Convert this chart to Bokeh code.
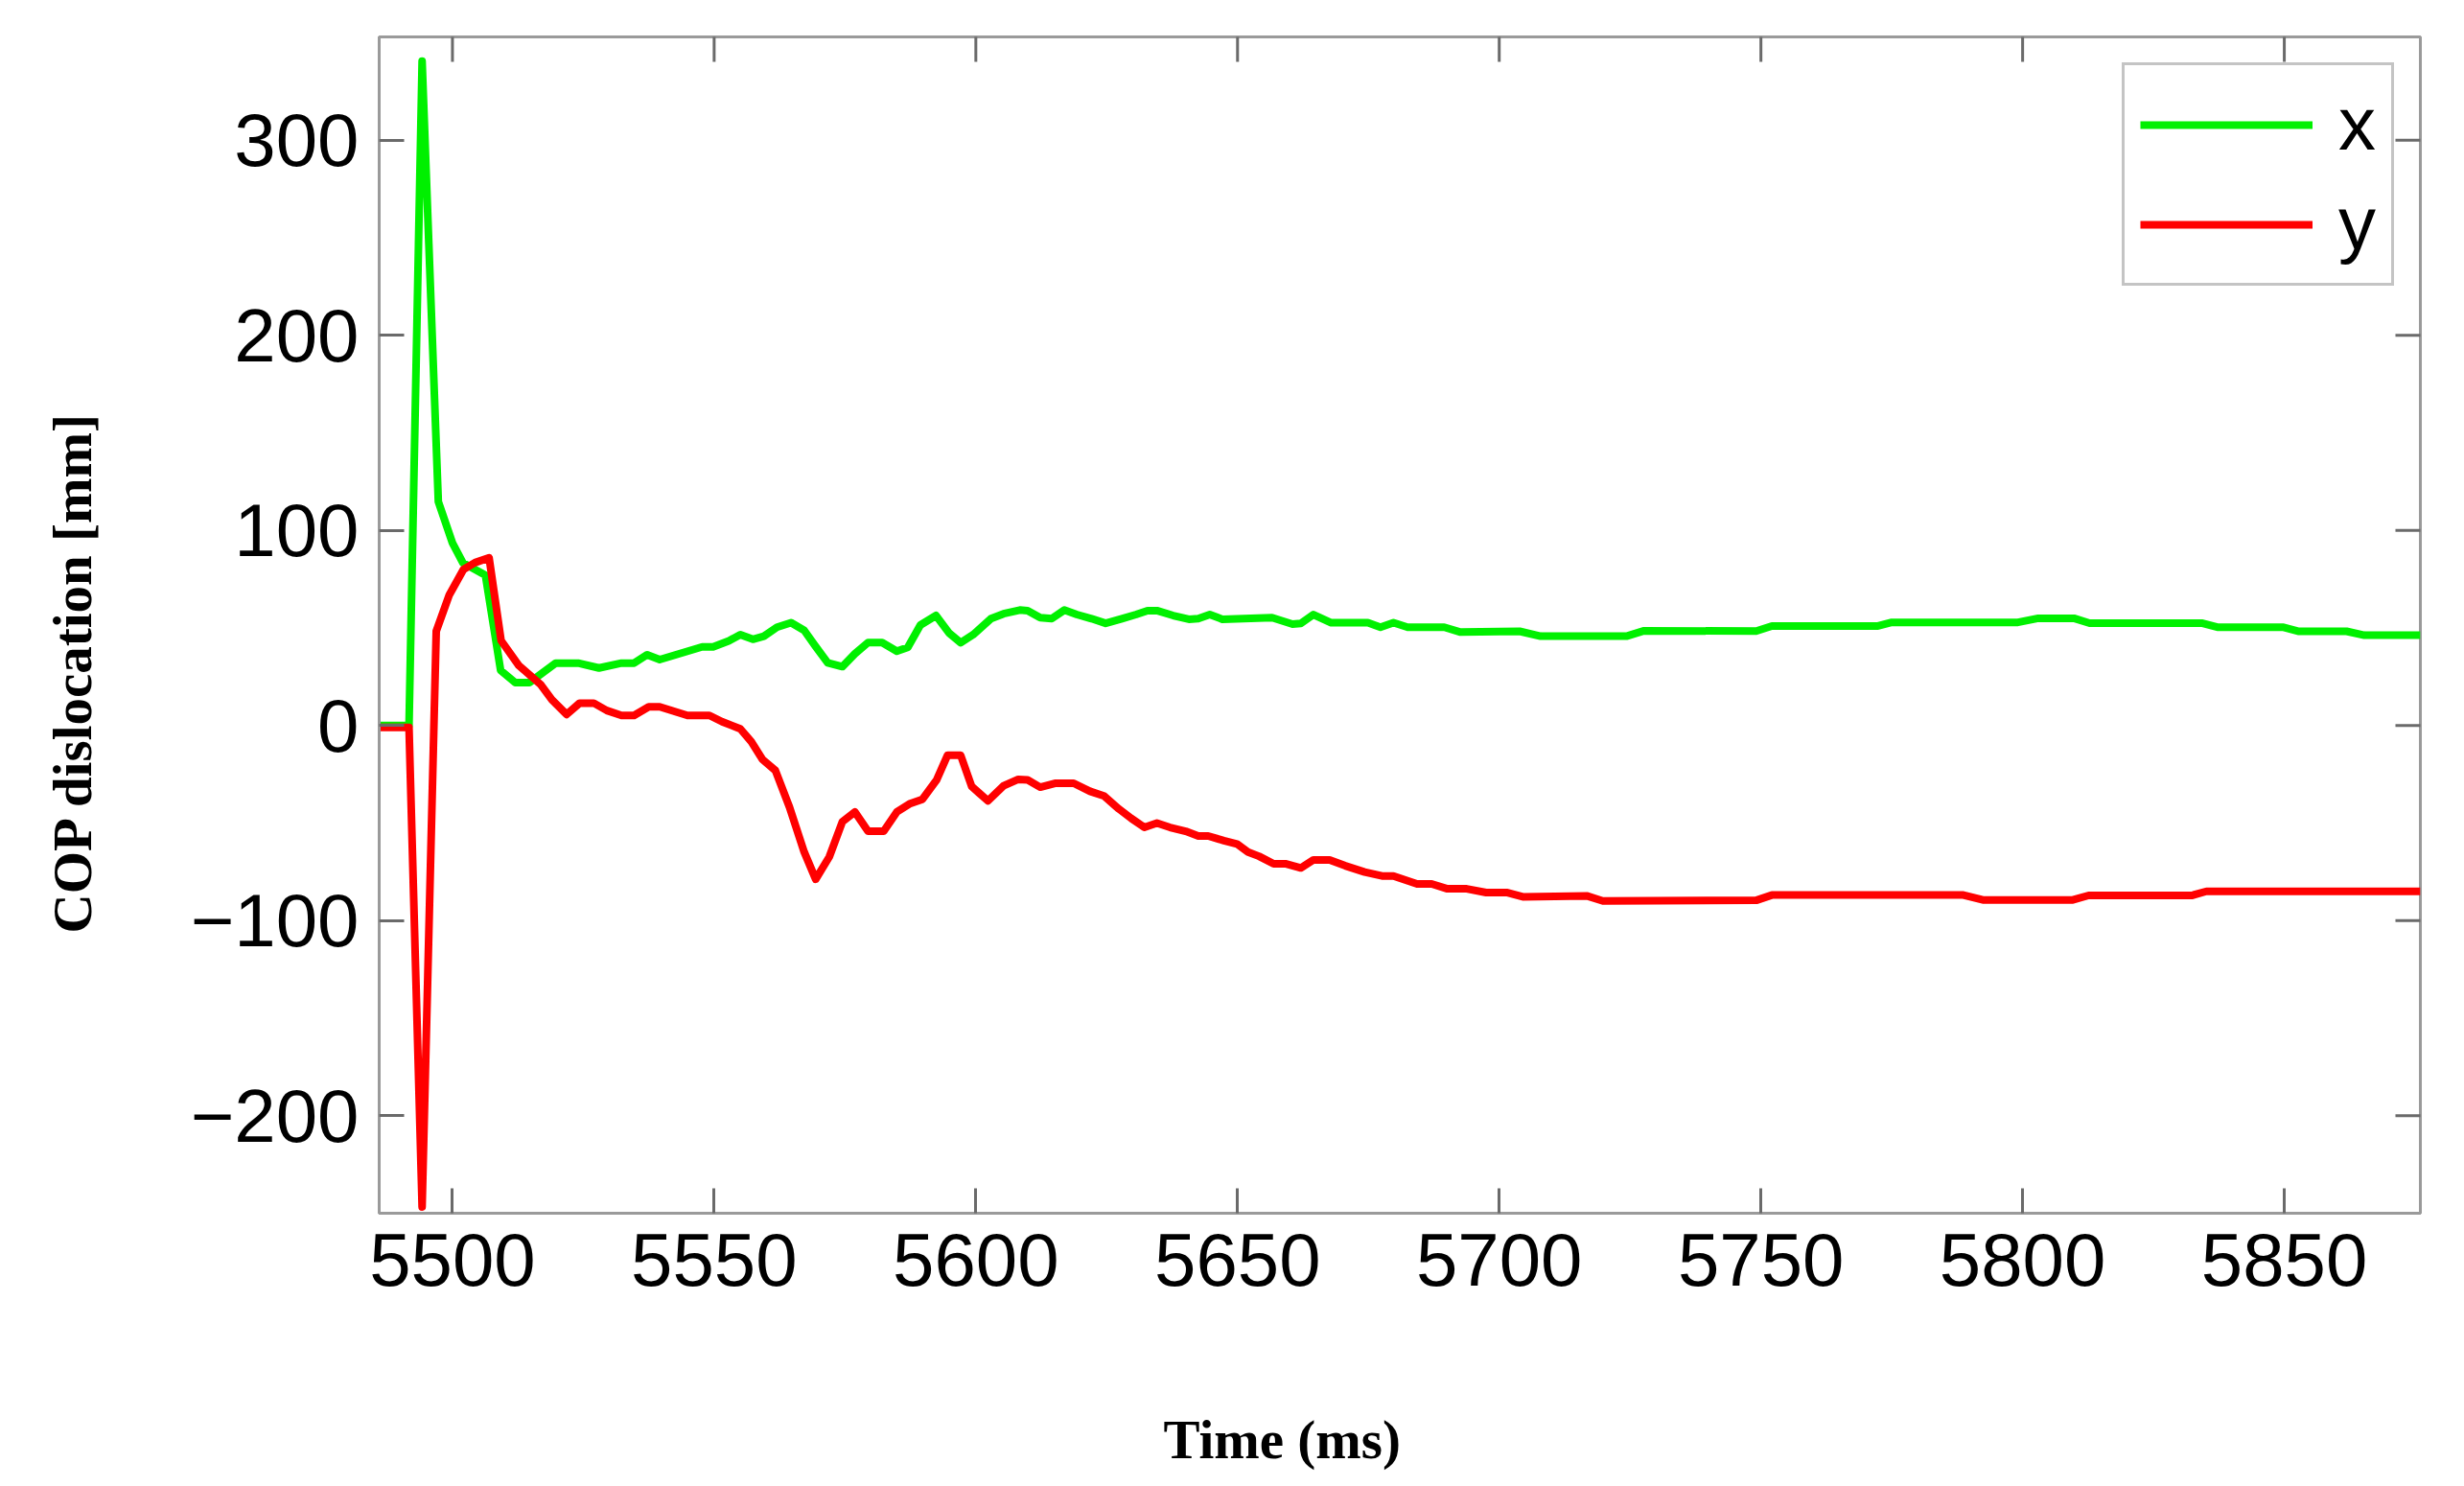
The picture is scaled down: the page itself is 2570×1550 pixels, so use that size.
from math import pi
from bokeh.plotting import figure
from bokeh.models import Range1d, FixedTicker, Title, Legend, LegendItem
from bokeh.embed import file_html
from bokeh.resources import INLINE

# ---- data ----
t_x = [5486, 5491.7, 5494.2, 5497.3, 5500.0, 5502.0, 5506.3, 5509.2, 5512.0, 5514.7,
       5519.7, 5524.0, 5528.0, 5532.3, 5534.7, 5537.2, 5539.6, 5547.7, 5549.8, 5552.8,
       5555.0, 5557.4, 5559.5, 5562.0, 5564.7, 5567.2, 5569.3, 5571.7, 5574.5, 5576.9,
       5579.4, 5582.1, 5584.9, 5587.0, 5589.4, 5592.4, 5594.9, 5597.1, 5599.5, 5602.9,
       5605.3, 5608.4, 5609.9, 5612.3, 5614.5, 5616.9, 5619.3, 5622.1, 5624.8, 5627.9,
       5630.6, 5632.8, 5634.6, 5637.7, 5640.7, 5642.5, 5644.7, 5647.1, 5656.6, 5660.5,
       5662.1, 5664.5, 5667.9, 5674.9, 5677.3, 5679.8, 5682.5, 5689.5, 5692.6, 5703.9,
       5707.9, 5724.3, 5727.7, 5749.1, 5752.1, 5772.2, 5775.0, 5799.1, 5803.0, 5809.8,
       5812.8, 5834.2, 5837.2, 5849.7, 5852.8, 5861.9, 5865.3, 5876]
x_mm = [0, 0, 340.6, 114.8, 93.6, 83.4, 77, 28.3, 22, 22,
        32, 32, 29.5, 32, 32, 36.3, 33.8, 40.3, 40.3, 43.4,
        46.6, 44.2, 45.8, 50.4, 52.7, 48.8, 40.9, 32.2, 30.2, 36.8,
        42.5, 42.5, 38.1, 40.1, 51.5, 56.4, 47.4, 42.5, 46.6, 54.8,
        57.3, 59.2, 58.9, 55.3, 54.8, 59.2, 56.9, 54.8, 52.4, 54.8,
        56.9, 58.9, 58.9, 56.4, 54.5, 54.8, 56.9, 54.5, 55.3, 52,
        52.4, 56.9, 52.7, 52.7, 50.4, 52.7, 50.4, 50.4, 47.9, 48.3,
        45.8, 45.8, 48.6, 48.4, 51, 51, 52.9, 52.9, 55.0, 55.0,
        52.5, 52.5, 50.4, 50.4, 48.3, 48.3, 46.3, 46.3]

t_y = [5486, 5491.7, 5494.2, 5496.9, 5499.4, 5502.1, 5504.3, 5507.0, 5509.3, 5512.7,
       5516.9, 5519.0, 5521.8, 5524.3, 5527.0, 5529.5, 5532.3, 5534.7, 5537.5, 5539.6,
       5544.9, 5549.1, 5551.5, 5555.0, 5557.1, 5559.2, 5561.7, 5564.4, 5567.2, 5569.4,
       5572.0, 5574.5, 5576.9, 5579.4, 5582.4, 5584.9, 5587.3, 5589.8, 5592.5, 5594.6,
       5597.1, 5599.2, 5602.3, 5605.3, 5608.1, 5609.9, 5612.3, 5615.1, 5618.7, 5621.8,
       5624.5, 5627.3, 5629.7, 5632.2, 5634.6, 5637.1, 5640.1, 5642.5, 5644.4, 5647.4,
       5649.9, 5652.0, 5654.1, 5656.9, 5659.3, 5662.1, 5664.5, 5667.6, 5670.6, 5674.3,
       5677.6, 5679.8, 5684.3, 5687.1, 5690.1, 5693.8, 5697.5, 5701.4, 5704.5, 5716.7,
       5719.8, 5749.1, 5752.1, 5788.7, 5792.4, 5809.6, 5812.6, 5832.3, 5835.1, 5876]
y_mm = [-1, -1, -246.8, 48.4, 67, 80, 83.5, 86, 43.5, 30.7,
        20.9, 13.2, 5.7, 11.5, 11.5, 7.7, 5.2, 5.2, 9.6, 9.6,
        5.2, 5.2, 2, -1.7, -8.3, -17.3, -23, -41.9, -64.8, -78.8,
        -67.3, -49.3, -44.3, -54.2, -54.2, -44.3, -40.2, -37.8, -27.9, -15.2,
        -15.2, -31.2, -38.6, -30.9, -27.6, -27.9, -31.6, -29.6, -29.6, -33.7,
        -36.1, -42.7, -47.6, -52.2, -50, -52.2, -54.2, -56.6, -56.6, -59,
        -60.7, -64.8, -67, -70.9, -70.9, -73, -68.9, -68.9, -71.9, -75.1,
        -77.1, -77.1, -81.2, -81.2, -83.7, -83.7, -85.6, -85.6, -87.8, -87.3,
        -89.9, -89.6, -86.9, -86.9, -89.4, -89.4, -87.1, -87.1, -85, -85]

x_ticks = [5500, 5550, 5600, 5650, 5700, 5750, 5800, 5850]
y_ticks = [-200, -100, 0, 100, 200, 300]
y_tick_labels = {-200: "\u2212200", -100: "\u2212100", 0: "0", 100: "100", 200: "200", 300: "300"}
series_names = ["x", "y"]
series_colors = ["#00f000", "#ff0000"]
x_title = "Time (ms)"
y_title = "COP dislocation [mm]"

X_START, X_END = 5486, 5876
Y_START, Y_END = -250, 353

# ---- figure ----
p = figure(width=2554, height=1534, output_backend="svg", toolbar_location=None,
           x_range=Range1d(X_START, X_END), y_range=Range1d(Y_START, Y_END),
           min_border_left=395, min_border_right=30, min_border_top=38, min_border_bottom=269)
p.background_fill_color = "white"
p.border_fill_color = "white"
p.grid.visible = False
p.outline_line_color = "#9a9a9a"
p.outline_line_width = 3

AX_COL = "#9a9a9a"
TICK_COL = "#6a6a6a"
TICK_FONT = "Liberation Sans"
TITLE_FONT = "Liberation Serif"

for ax, ticks in ((p.xaxis[0], x_ticks), (p.yaxis[0], y_ticks)):
    ax.ticker = FixedTicker(ticks=ticks)
    ax.axis_line_color = AX_COL
    ax.axis_line_width = 3
    ax.major_tick_in = 26
    ax.major_tick_out = 0
    ax.major_tick_line_color = TICK_COL
    ax.major_tick_line_width = 3
    ax.minor_tick_line_color = None
    ax.major_label_text_font = TICK_FONT
    ax.major_label_text_font_size = "78px"
    ax.major_label_text_color = "black"
    ax.major_label_standoff = 21
p.yaxis[0].major_label_overrides = y_tick_labels

# axis titles as side-panel titles; one-sided padding pushes them away from the tick labels
p.add_layout(Title(text=x_title, align="left", offset=818, standoff=0, vertical_align="top",
                   padding=dict(left=0, right=0, top=126, bottom=0),
                   text_font=TITLE_FONT, text_font_style="bold", text_font_size="57px",
                   text_color="black"), "below")
p.add_layout(Title(text=y_title, align="left", offset=292, standoff=0, vertical_align="bottom",
                   padding=dict(left=0, right=0, top=0, bottom=89),
                   text_font=TITLE_FONT, text_font_style="bold", text_font_size="57px",
                   text_color="black"), "left")

# inward tick marks on the top and right edges (half of each dash is clipped by the frame)
p.scatter(x=x_ticks, y=[Y_END] * len(x_ticks), marker="dash", size=52, angle=pi / 2,
          line_color=TICK_COL, line_width=3)
p.scatter(x=[X_END] * len(y_ticks), y=y_ticks, marker="dash", size=52, angle=0,
          line_color=TICK_COL, line_width=3)

gx = p.line(t_x, x_mm, line_color=series_colors[0], line_width=8, line_join="round")
ry = p.line(t_y, y_mm, line_color=series_colors[1], line_width=8, line_join="round")

legend = Legend(items=[LegendItem(label=series_names[0], renderers=[gx]),
                       LegendItem(label=series_names[1], renderers=[ry])],
                location="top_right")
legend.label_text_font = TICK_FONT
legend.label_text_font_size = "78px"
legend.label_text_color = "black"
legend.glyph_width = 180
legend.glyph_height = 60
legend.label_standoff = 27
legend.padding = 16
legend.spacing = 13
legend.margin = 27
legend.border_line_color = "#8a8a8a"
legend.border_line_width = 3
legend.background_fill_color = "white"
legend.background_fill_alpha = 1.0
p.add_layout(legend)

open("out.html", "w").write(file_html(p, INLINE))
